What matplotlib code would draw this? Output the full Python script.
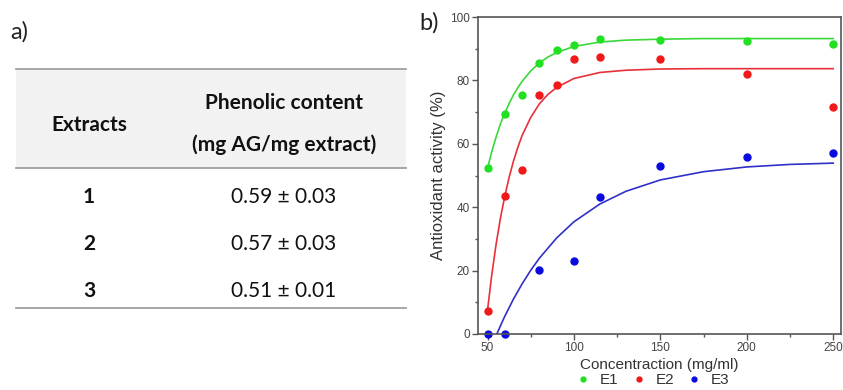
#!/usr/bin/env python3
"""
Panel a) phenolic content table, panel b) antioxidant activity vs concentration.
"""

import matplotlib
matplotlib.use("Agg")
import matplotlib.pyplot as plt
from matplotlib.patches import Rectangle
from matplotlib.ticker import MultipleLocator

# ── Table data ──────────────────────────────────────────────────────────────
extracts = ["1", "2", "3"]
phenolic = ["0.59 ± 0.03", "0.57 ± 0.03", "0.51 ± 0.01"]

# ── Measured points ─────────────────────────────────────────────────────────
conc_e1 = [50, 60, 70, 80, 90, 100, 115, 150, 200, 250]
act_e1 = [52.3, 69.3, 75.4, 85.4, 89.6, 91.3, 93.2, 92.8, 92.4, 91.6]
conc_e2 = [50, 60, 70, 80, 90, 100, 115, 150, 200, 250]
act_e2 = [7.4, 43.6, 51.6, 75.5, 78.5, 86.7, 87.5, 86.7, 82.0, 71.5]
conc_e3 = [50, 60, 80, 100, 115, 150, 200, 250]
act_e3 = [0.0, 0.0, 20.2, 23.1, 43.1, 53.1, 55.8, 57.0]

# ── Fitted curves ───────────────────────────────────────────────────────────
fit_x12 = [50, 52.5, 55, 57.5, 60, 62.5, 65, 67.5, 70, 75, 80, 85, 90, 100,
           115, 130, 150, 175, 200, 225, 250]
fit_e1 = [52.3, 57.6, 62.2, 66.3, 69.7, 72.7, 75.4, 77.7, 79.7, 83.0, 85.5,
          87.4, 88.8, 90.7, 92.1, 92.7, 93.0, 93.2, 93.2, 93.2, 93.2]
fit_e2 = [7.5, 18.8, 28.4, 36.6, 43.5, 49.4, 54.5, 58.8, 62.6, 68.3, 72.6,
          75.6, 77.8, 80.6, 82.5, 83.2, 83.6, 83.7, 83.7, 83.7, 83.7]
fit_x3 = [55.4, 57.5, 60, 65, 70, 75, 80, 90, 100, 115, 130, 150, 175, 200,
          225, 250]
fit_e3 = [0.0, 2.6, 5.6, 11.0, 15.8, 20.1, 23.9, 30.3, 35.4, 41.0, 45.0, 48.6,
          51.2, 52.7, 53.5, 53.9]

GREEN, GREEN_L = "#22e022", "#3ad83a"
RED, RED_L = "#f01818", "#e8303a"
BLUE, BLUE_L = "#0a0ae0", "#3030c8"

W, H = 843, 390
fig = plt.figure(figsize=(W / 100, H / 100), dpi=100)

# ── Panel a: table drawn in pixel coordinates ───────────────────────────────
tab = fig.add_axes([0, 0, 1, 1])
tab.set_xlim(0, W)
tab.set_ylim(H, 0)
tab.axis("off")
tfont = "Lato"
fs = 15

tab.text(10, 32, "a)", fontsize=17, family=tfont, va="center", ha="left", color="#222")
tab.add_patch(Rectangle((16, 69), 390, 99, facecolor="#f2f2f2", edgecolor="none"))
for y in (69, 168, 308):
    tab.plot([16, 406], [y, y], color="#a0a0a0", linewidth=1.3)

col1, col2 = 89, 284
tab.text(col1, 125, "Extracts", fontsize=fs, fontweight="bold", family=tfont,
         ha="center", va="center", color="#111")
tab.text(col2, 103, "Phenolic content", fontsize=fs, fontweight="bold", family=tfont,
         ha="center", va="center", color="#111")
tab.text(col2, 145, "(mg AG/mg extract)", fontsize=fs, fontweight="bold", family=tfont,
         ha="center", va="center", color="#111")
for i, (e, p) in enumerate(zip(extracts, phenolic)):
    y = 197 + i * 47
    tab.text(col1, y, e, fontsize=fs, fontweight="bold", family=tfont,
             ha="center", va="center", color="#111")
    tab.text(col2, y, p, fontsize=fs, family=tfont, ha="center", va="center", color="#111")

tab.text(419, 23, "b)", fontsize=17, family=tfont, va="center", ha="left", color="#222")

# ── Panel b: antioxidant activity ───────────────────────────────────────────
ax = fig.add_axes([478 / W, 1 - 334 / H, 363 / W, 317 / H])
afont = "Liberation Sans"

ax.plot(fit_x12, fit_e1, color=GREEN_L, linewidth=1.2)
ax.plot(fit_x12, fit_e2, color=RED_L, linewidth=1.2)
ax.plot(fit_x3, fit_e3, color=BLUE_L, linewidth=1.2)
ax.plot(conc_e1, act_e1, "o", color=GREEN, markersize=5, label="E1", clip_on=False)
ax.plot(conc_e2, act_e2, "o", color=RED, markersize=5, label="E2", clip_on=False)
ax.plot(conc_e3, act_e3, "o", color=BLUE, markersize=5, label="E3", clip_on=False)

ax.set_xlim(44.5, 254.5)
ax.set_ylim(0, 100)
ax.xaxis.set_major_locator(MultipleLocator(50))
ax.xaxis.set_minor_locator(MultipleLocator(25))
ax.yaxis.set_major_locator(MultipleLocator(20))
ax.yaxis.set_minor_locator(MultipleLocator(10))
ax.tick_params(which="major", direction="out", length=4, width=1, color="#555",
               labelsize=8.5, labelcolor="#444", pad=2)
ax.tick_params(which="minor", direction="out", length=2, width=1, color="#555")
for lab in ax.get_xticklabels() + ax.get_yticklabels():
    lab.set_family(afont)
for sp in ax.spines.values():
    sp.set_color("#555")
    sp.set_linewidth(1.2)

ax.set_xlabel("Concentraction (mg/ml)", fontsize=11, family=afont, color="#333", labelpad=2.5)
ax.set_ylabel("Antioxidant activity (%)", fontsize=12, family=afont, color="#333", labelpad=3)

ax.legend(loc="center", bbox_to_anchor=(0.483, -0.145), ncol=3, frameon=False,
          prop={"family": afont, "size": 11}, markerscale=0.7,
          handletextpad=0.7, columnspacing=0.9, handlelength=0.8, borderpad=0)
for t in ax.get_legend().get_texts():
    t.set_color("#333")

fig.savefig("out.png", dpi=100)
